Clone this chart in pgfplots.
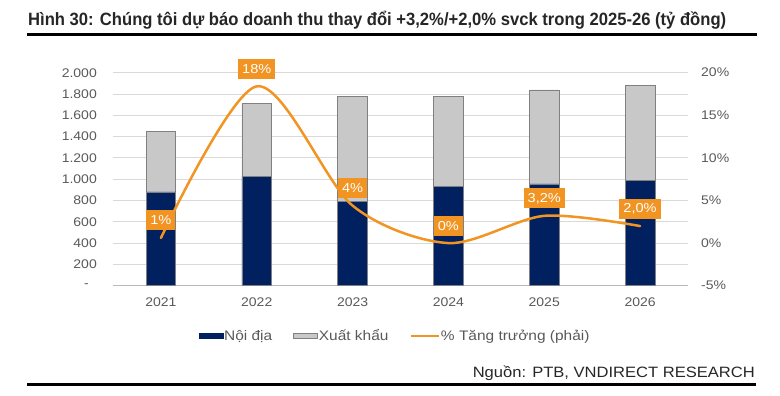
\documentclass[border=0pt]{standalone}
\usepackage{pgfplots}
\pgfplotsset{compat=1.18}
\usepackage{fontspec}
\setmainfont{Liberation Sans}[FakeStretch=1.12]
\definecolor{navy}{RGB}{0,32,96}
\definecolor{barGray}{RGB}{200,200,200}
\definecolor{edgeGray}{RGB}{128,128,128}
\definecolor{orng}{RGB}{241,148,34}
\definecolor{gridGray}{RGB}{217,217,217}
\definecolor{tickGray}{RGB}{89,89,89}
\definecolor{titleCol}{RGB}{38,38,38}
\begin{document}
\begin{tikzpicture}
\path[use as bounding box] (0,0) rectangle (780bp,396bp);
\node[anchor=base west, inner sep=0pt, text=titleCol] at (28bp,370bp) {\resizebox{698bp}{\height}{\fontsize{17.8bp}{20bp}\selectfont\bfseries Hình 30: Chúng tôi dự báo doanh thu thay đổi +3,2\%/+2,0\% svck trong 2025-26 (tỷ đồng)}};
\draw[line width=3bp] (27bp,361bp) -- (757bp,361bp);
\draw[line width=3bp] (27bp,11bp) -- (756bp,11bp);
\node[anchor=base east, inner sep=0pt, text=titleCol] at (755bp,18.7bp) {\resizebox{282bp}{\height}{\fontsize{15bp}{18bp}\selectfont Nguồn: PTB, VNDIRECT RESEARCH}};

\begin{axis}[
  at={(113bp,110.3bp)}, anchor=south west,
  width=575bp, height=213bp, scale only axis,
  xmin=-0.5, xmax=5.5, ymin=0, ymax=2000,
  ybar stacked, bar width=0.31,
  xtick={0,...,5}, xticklabels={2021,2022,2023,2024,2025,2026},
  ytick={0,200,...,2000},
  yticklabels={{-\kern8bp},200,400,600,800,{1.000},{1.200},{1.400},{1.600},{1.800},{2.000}},
  /pgf/number format/assume math mode=true,
  axis lines*=left,
  y axis line style={draw=none},
  x axis line style={draw=gray!55, line width=0.8bp},
  major tick length=0pt, tick style={draw=none},
  ymajorgrids, grid style={gridGray, line width=0.8bp},
  tick label style={font=\fontsize{12.5bp}{14bp}\selectfont, text=tickGray},
  yticklabel style={inner sep=0pt, xshift=-16bp},
  xticklabel style={inner sep=0pt, yshift=-12bp},
  legend style={at={(0.4896,-0.236)}, anchor=center, draw=none, fill=none,
    legend columns=3, font=\fontsize{13.8bp}{15bp}\selectfont, text=tickGray,
    /tikz/every even column/.append style={column sep=20bp},
    nodes={inner sep=1bp}},
  clip=false,
]
\addplot[fill=navy, draw=edgeGray, line width=0.6bp,
  legend image code/.code={\draw[fill=navy, draw=navy] (0bp,-2.5bp) rectangle (24bp,2.5bp);}]
  coordinates {(0,880) (1,1030) (2,790) (3,930) (4,955) (5,986)};
\addplot[fill=barGray, draw=edgeGray, line width=0.6bp,
  legend image code/.code={\draw[fill=barGray, draw=edgeGray, line width=0.6bp] (0bp,-2.5bp) rectangle (24bp,2.5bp);}]
  coordinates {(0,570) (1,683) (2,991) (3,850) (4,883) (5,892)};
\addlegendimage{orng, line width=2.5bp, legend image code/.code={\draw[orng, line width=2.5bp] (0bp,0bp) -- (28bp,0bp);}}
\legend{Nội địa, Xuất khẩu, \% Tăng trưởng (phải)}
\end{axis}

\begin{axis}[
  at={(113bp,110.3bp)}, anchor=south west,
  width=575bp, height=213bp, scale only axis,
  xmin=-0.5, xmax=5.5, ymin=-5, ymax=20,
  axis y line*=right, axis x line=none,
  ytick={-5,0,...,20}, yticklabels={-5\%,0\%,5\%,10\%,15\%,20\%},
  /pgf/number format/assume math mode=true,
  y axis line style={draw=none},
  major tick length=0pt, tick style={draw=none},
  tick label style={font=\fontsize{12.5bp}{14bp}\selectfont, text=tickGray},
  yticklabel style={inner sep=0pt, xshift=13bp},
  clip=false,
]
\addplot[orng, line width=2.5bp, smooth, mark=none, line cap=round,
  nodes near coords, point meta=explicit symbolic,
  every node near coord/.append style={fill=orng, text=white, inner xsep=4bp, inner ysep=0bp,
    minimum height=20bp, anchor=center, yshift=17.5bp, font=\fontsize{13bp}{14bp}\selectfont}]
  coordinates {(0,0.6) [1\%] (1,18.4) [18\%] (2,4.4) [4\%] (3,0) [0\%] (4,3.2) [{3,2\%}] (5,2.0) [{2,0\%}]};
\end{axis}
\end{tikzpicture}
\end{document}
